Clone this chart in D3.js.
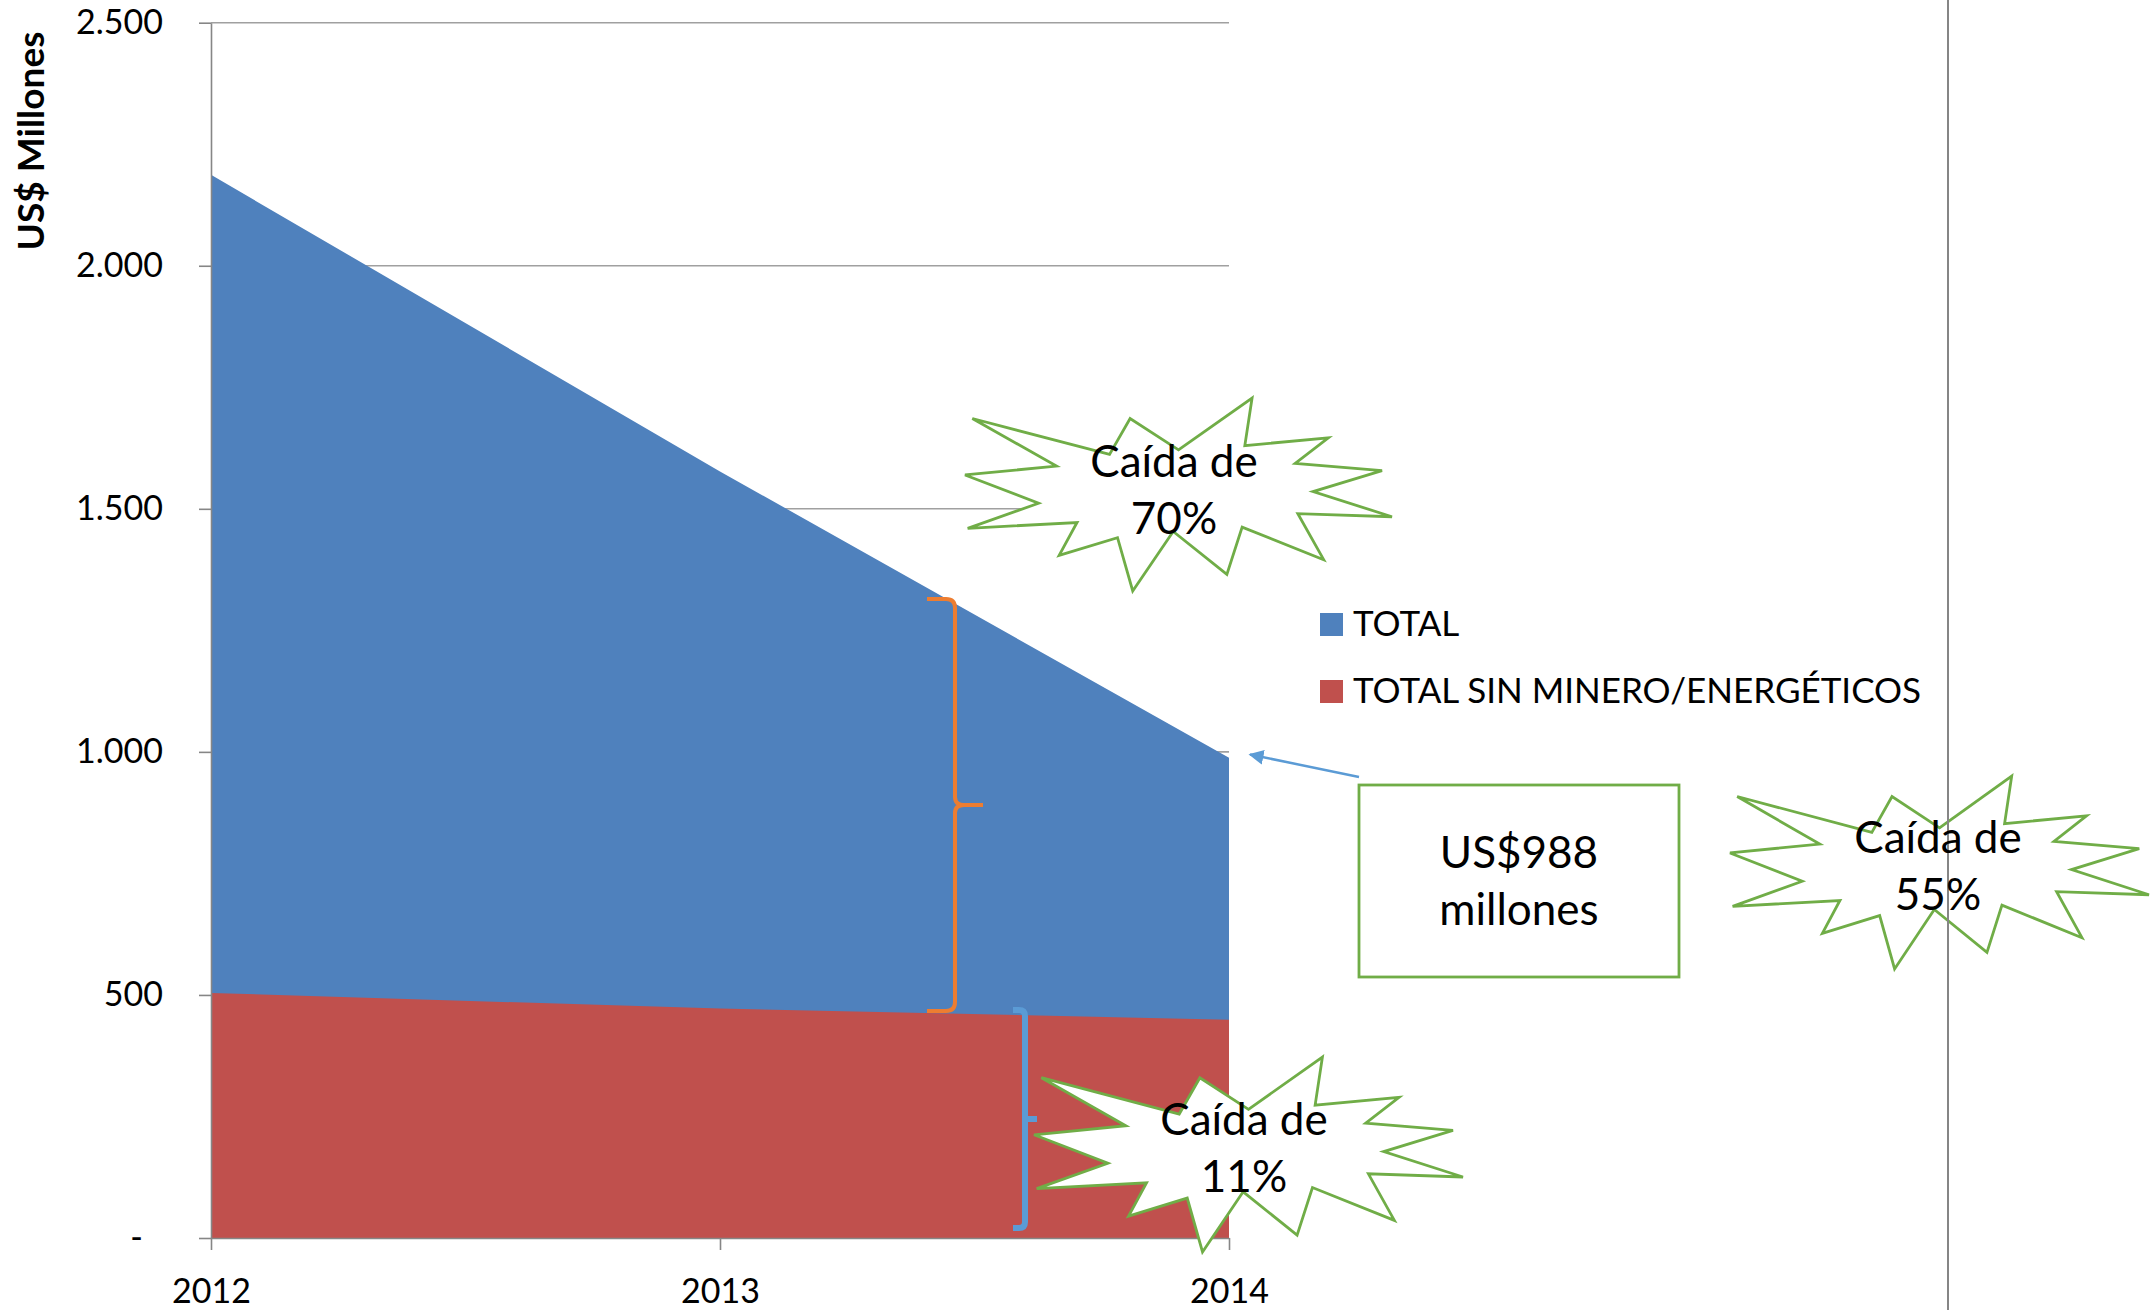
<!DOCTYPE html>
<html><head><meta charset="utf-8">
<script src="https://cdn.jsdelivr.net/npm/d3@7"></script>
<style>
body{margin:0;background:#fff}
svg{display:block}
text{font-family:Lato,"Open Sans",sans-serif;fill:#000}
</style>
</head><body>
<svg id="chart" width="2151" height="1310"></svg>
<script>
// ---- data ----
const years = [2012, 2013, 2014];
const totalValues = [2187, 1577, 988];
const sinMineroValues = [504, 472, 449];
const yTickValues = [0, 500, 1000, 1500, 2000, 2500];
const yTickLabels = ["-", "500", "1.000", "1.500", "2.000", "2.500"];
const seriesNames = ["TOTAL", "TOTAL SIN MINERO/ENERGÉTICOS"];
const seriesColors = ["#4F81BD", "#C0504D"];
const yAxisTitle = "US$ Millones";
const calloutLines = ["US$988", "millones"];
const burstTexts = [["Caída de", "70%"], ["Caída de", "55%"], ["Caída de", "11%"]];

// Explosion-1 shape outline in 21600 units (decorative annotation geometry)
const SEAL = [[10800,5800],[14522,0],[14155,5325],[18380,4457],[16702,7315],[21097,8137],
  [17607,10475],[21600,13290],[16837,12942],[18145,18095],[14020,14457],[13247,19737],
  [10532,14935],[8485,21600],[7715,15627],[4762,17617],[5667,13937],[135,14587],
  [3722,11775],[0,8615],[4627,7617],[370,2295],[7312,6320],[8352,2295]];

const svg = d3.select("#chart");
svg.append("rect").attr("width",2151).attr("height",1310).attr("fill","#fff");

const x = d3.scaleLinear().domain([2012, 2014]).range([211, 1229]);
const y = d3.scaleLinear().domain([0, 2500]).range([1238, 22.7]);

// gridlines
svg.append("g").selectAll("line").data(yTickValues.filter(d => d > 0)).join("line")
  .attr("x1", 211).attr("x2", 1229)
  .attr("y1", d => y(d)).attr("y2", d => y(d))
  .attr("stroke", "#A0A0A0").attr("stroke-width", 1.6);

// areas
const rowsTotal = years.map((yr, i) => ({yr, v: totalValues[i]}));
const rowsSin = years.map((yr, i) => ({yr, v: sinMineroValues[i]}));
const area = d3.area().x(d => x(d.yr)).y0(y(0)).y1(d => y(d.v));
svg.append("path").datum(rowsTotal).attr("d", area).attr("fill", seriesColors[0]);
svg.append("path").datum(rowsSin).attr("d", area).attr("fill", seriesColors[1]);

// axes
const yAxis = svg.append("g").attr("transform", "translate(211,0)")
  .call(d3.axisLeft(y).tickValues(yTickValues).tickFormat((d, i) => yTickLabels[i])
    .tickSize(12).tickSizeOuter(0).tickPadding(36));
yAxis.selectAll("text").attr("font-size", 34).attr("font-family", "Lato")
  .attr("dx", d => d === 0 ? -20 : 0);
const xAxis = svg.append("g").attr("transform", "translate(0,1238)")
  .call(d3.axisBottom(x).tickValues(years).tickFormat(d3.format("d"))
    .tickSize(12).tickSizeOuter(0).tickPadding(29));
xAxis.selectAll("text").attr("font-size", 34).attr("font-family", "Lato");
svg.selectAll(".domain, .tick line").attr("stroke", "#868686").attr("stroke-width", 1.6);

// y title
svg.append("text").attr("transform", "translate(44,141) rotate(-90)")
  .attr("text-anchor", "middle").attr("font-weight", "bold").attr("font-size", 37)
  .text(yAxisTitle);

// braces
svg.append("path")
  .attr("d", "M927,599 L946,599 Q955,599 955,608 L955,797 Q955,805 964,805 L983,805 M964,805 Q955,805 955,813 L955,1002 Q955,1011 946,1011 L927,1011")
  .attr("fill", "none").attr("stroke", "#ED7D31").attr("stroke-width", 4);
svg.append("path")
  .attr("d", "M1013,1010 L1019,1010 Q1025,1010 1025,1016 L1025,1119 L1037,1119 M1025,1119 L1025,1222 Q1025,1228 1019,1228 L1013,1228")
  .attr("fill", "none").attr("stroke", "#5B9BD5").attr("stroke-width", 6);

// bursts
function sealPath(x0, y0, w, h) {
  return "M" + SEAL.map(p => [x0 + p[0] / 21600 * w, y0 + p[1] / 21600 * h].join(",")).join("L") + "Z";
}
const bursts = [
  {box: [965, 398, 427, 193], text: burstTexts[0], cx: 1174, b: 477},
  {box: [1730, 776, 419, 193], text: burstTexts[1], cx: 1938, b: 853},
  {box: [1034, 1057, 429, 195], text: burstTexts[2], cx: 1244, b: 1135}
];
bursts.forEach(bu => {
  svg.append("path").attr("d", sealPath(...bu.box))
    .attr("fill", "#fff").attr("stroke", "#70AD47").attr("stroke-width", 2.8)
    .attr("stroke-linejoin", "miter");
});

// vertical separator line
svg.append("line").attr("x1", 1948).attr("x2", 1948).attr("y1", 0).attr("y2", 1310)
  .attr("stroke", "#868686").attr("stroke-width", 2);

bursts.forEach(bu => {
  bu.text.forEach((t, i) => {
    svg.append("text").attr("x", bu.cx).attr("y", bu.b + i * 57)
      .attr("text-anchor", "middle").attr("font-size", 44).text(t);
  });
});

// legend
const lg = svg.append("g");
seriesNames.forEach((n, i) => {
  lg.append("rect").attr("x", 1320).attr("y", 613 + i * 67).attr("width", 23).attr("height", 23)
    .attr("fill", seriesColors[i]);
  lg.append("text").attr("x", 1353).attr("y", 636 + i * 67).attr("font-size", 35).text(n);
});

// callout box with arrow
svg.append("rect").attr("x", 1359).attr("y", 785).attr("width", 320).attr("height", 192)
  .attr("fill", "#fff").attr("stroke", "#70AD47").attr("stroke-width", 2.8);
calloutLines.forEach((t, i) => {
  svg.append("text").attr("x", 1519).attr("y", 868 + i * 57)
    .attr("text-anchor", "middle").attr("font-size", 44).text(t);
});
svg.append("defs").append("marker").attr("id", "arr").attr("viewBox", "0 0 10 10")
  .attr("refX", 9).attr("refY", 5).attr("markerWidth", 6).attr("markerHeight", 6)
  .attr("orient", "auto").attr("markerUnits", "strokeWidth")
  .append("path").attr("d", "M0,0 L10,5 L0,10 Z").attr("fill", "#5B9BD5");
svg.append("line").attr("x1", 1359).attr("y1", 777).attr("x2", 1250).attr("y2", 754.5)
  .attr("stroke", "#5B9BD5").attr("stroke-width", 2.5).attr("marker-end", "url(#arr)");
</script>
</body></html>
